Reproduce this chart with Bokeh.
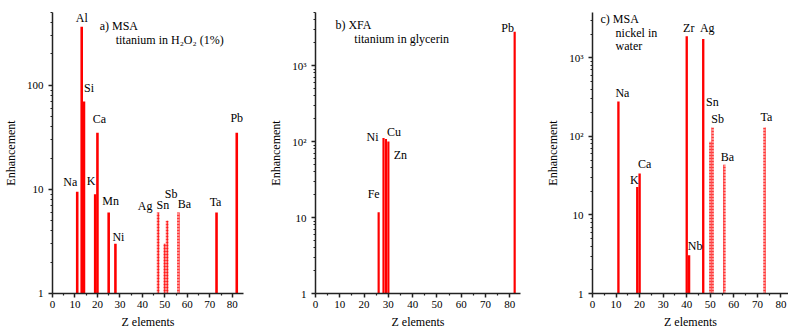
from bokeh.plotting import figure
from bokeh.layouts import row
from bokeh.models import FixedTicker, ColumnDataSource, Label, CustomJSTickFormatter
from bokeh.core.properties import value
from bokeh.embed import file_html
from bokeh.resources import INLINE

FONT = "'Liberation Serif', 'Times New Roman', serif"

# ---------------- data ----------------
# Panel a) MSA, titanium in H2O2 (1%)
A_ELEMENTS = ["Na", "Al", "Si", "K", "Ca", "Mn", "Ni", "Ag", "Sn", "Sb", "Ba", "Ta", "Pb"]
A_Z = [11, 13, 14, 19, 20, 25, 28, 47, 50, 51, 56, 73, 82]
A_VALUES = [9.5, 365, 70, 9, 35, 6, 3, 6, 3, 5, 6, 6, 35]
A_DOTTED = [False, False, False, False, False, False, False, True, True, True, True, False, False]

# Panel b) XFA, titanium in glycerin
B_ELEMENTS = ["Fe", "Ni", "Cu", "Zn", "Pb"]
B_Z = [26, 28, 29, 30, 82]
B_VALUES = [11.7, 111, 108, 100, 2800]
B_DOTTED = [False, False, False, False, False]

# Panel c) MSA, nickel in water
C_ELEMENTS = ["Na", "K", "Ca", "Zr", "Nb", "Ag", "Sn", "Sb", "Ba", "Ta"]
C_Z = [11, 19, 20, 40, 41, 47, 50, 51, 56, 73]
C_VALUES = [278, 22.6, 33.6, 1880, 3.06, 1740, 85.5, 130, 43.5, 130]
C_DOTTED = [False, False, False, False, False, False, True, True, True, True]

X_TICKS = [0, 10, 20, 30, 40, 50, 60, 70, 80]
X_MINOR = [5, 15, 25, 35, 45, 55, 65, 75]
Y_TICKS = [1, 10, 100, 1000]

# label offsets in screen pixels (dx right, dy down) relative to bar tops
A_DX = [-7, 0, 5, -4, 2, 2, 3, -13, -2, 4, 6, -1, 0]
A_DY = [-10, -9, -13, -13, -14, -11, -7, -6, -39, -27, -8, -10, -15]
B_DX = [-5, -11, 8, 12, -7]
B_DY = [-18, -1, -7, 13, -4]
C_DX = [4, -3, 5, 2, 6, 4, 2, 5, 3, 2]
C_DY = [-8, -7, -10, -8, -9, -11, -40, -8, -8, -10]


def make_panel(elements, z, vals, dotted, dx, dy, width, xmax, ymax, borders,
               bar_w, sup_labels, titles):
    p = figure(width=width, height=331, x_range=(0, xmax), y_range=(1, ymax),
               y_axis_type="log", output_backend="svg", toolbar_location=None,
               min_border_left=borders[0], min_border_right=borders[1],
               min_border_top=borders[2], min_border_bottom=borders[3])
    p.outline_line_color = None
    p.grid.visible = False
    p.background_fill_color = "white"

    solid = ColumnDataSource(dict(
        x=[zz for zz, d in zip(z, dotted) if not d],
        top=[v for v, d in zip(vals, dotted) if not d]))
    dots = ColumnDataSource(dict(
        x=[zz for zz, d in zip(z, dotted) if d],
        top=[v for v, d in zip(vals, dotted) if d]))
    p.vbar(x="x", top="top", bottom=1, width=bar_w, source=solid,
           fill_color="#ff0000", line_color=None)
    p.vbar(x="x", top="top", bottom=1, width=bar_w, source=dots,
           fill_color="#ff8c8c", line_color=None,
           hatch_pattern="+", hatch_color="#ff0000", hatch_scale=3, hatch_weight=0.6)

    lab = ColumnDataSource(dict(x=z, y=vals, t=elements, dx=dx, dy=dy))
    p.text(x="x", y="y", text="t", x_offset="dx", y_offset="dy", source=lab,
           text_font=value(FONT), text_font_size="12px", text_color="black",
           text_align="center", text_baseline="middle")

    for (tx, ty, txt) in titles:
        p.add_layout(Label(x=tx, y=ty, text=txt, text_font=FONT, text_font_size="12px",
                           text_baseline="middle", text_align="left", text_color="black"))

    p.xaxis.ticker = FixedTicker(ticks=X_TICKS, minor_ticks=X_MINOR)
    minors = [m * 10 ** k for k in range(0, 4) for m in range(2, 10)]
    p.yaxis.ticker = FixedTicker(ticks=Y_TICKS, minor_ticks=minors)
    if sup_labels:
        p.yaxis.formatter = CustomJSTickFormatter(code="""
            const m = {1: '1', 10: '10', 100: '10\u00b2', 1000: '10\u00b3'};
            const k = Math.round(tick);
            return (k in m) ? m[k] : '';
        """)
    else:
        p.yaxis.formatter = CustomJSTickFormatter(code="return String(Math.round(tick));")

    for ax in (p.xaxis[0], p.yaxis[0]):
        ax.axis_line_width = 1.5
        ax.axis_line_color = "#222222"
        ax.major_tick_line_width = 1.5
        ax.major_tick_line_color = "#222222"
        ax.minor_tick_line_color = "#222222"
        ax.minor_tick_line_width = 1.2
        ax.major_tick_out = 4
        ax.major_tick_in = 0
        ax.minor_tick_out = 2
        ax.minor_tick_in = 0
        ax.major_label_text_font = FONT
        ax.major_label_text_font_size = "11px"
        ax.major_label_text_color = "black"
        ax.axis_label_text_font = FONT
        ax.axis_label_text_font_size = "12px"
        ax.axis_label_text_font_style = "normal"
        ax.axis_label_text_color = "black"
    p.xaxis.axis_label = "Z elements"
    p.yaxis.axis_label = "Enhancement"
    p.xaxis.major_label_standoff = 3
    p.xaxis.axis_label_standoff = 4
    p.yaxis.major_label_standoff = 5
    p.yaxis.axis_label_standoff = 6
    return p


pa = make_panel(A_ELEMENTS, A_Z, A_VALUES, A_DOTTED, A_DX, A_DY, 255, 85, 500,
                (49, 12, 12, 37), 1.15, False,
                [(21.0, 375, "a)  MSA"), (28.1, 270, "titanium in H\u2082O\u2082 (1%)")])
pb = make_panel(B_ELEMENTS, B_Z, B_VALUES, B_DOTTED, B_DX, B_DY, 268, 84.4, 5000,
                (60, 3, 10, 37), 0.9, True,
                [(8.2, 3380, "b)  XFA"), (16.0, 2220, "titanium in glycerin")])
pc = make_panel(C_ELEMENTS, C_Z, C_VALUES, C_DOTTED, C_DX, C_DY, 265, 83.2, 3770,
                (69, 0, 11, 36), 1.0, True,
                [(3.4, 3100, "c)  MSA"), (9.8, 2050, "nickel in"), (9.8, 1406, "water")])

layout = row(pa, pb, pc)
open("out.html", "w").write(file_html(layout, INLINE))
